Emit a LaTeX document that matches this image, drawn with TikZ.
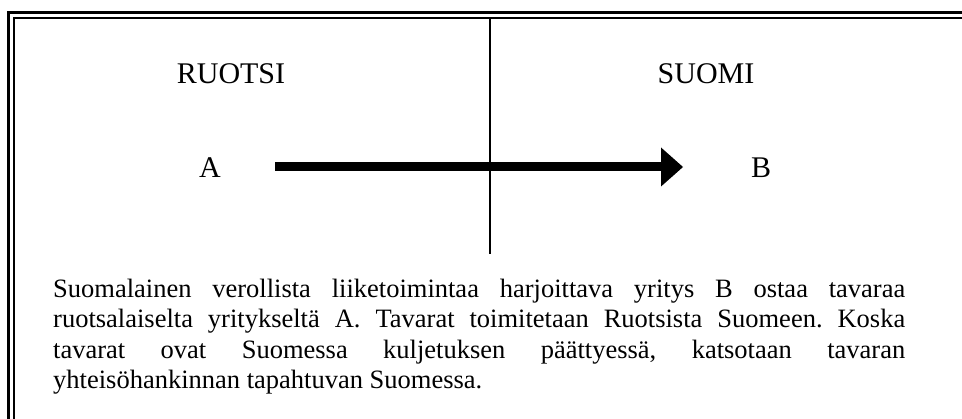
\documentclass[tikz,border=0pt]{standalone}
\usepackage{fontspec}
\setmainfont{Liberation Serif}
\usetikzlibrary{calc}
\begin{document}
\begin{tikzpicture}[x=1pt,y=-1pt,
  title/.style={font=\fontsize{30}{34}\selectfont, inner sep=0pt, anchor=base},
  label/.style={font=\fontsize{30}{34}\selectfont, inner sep=0pt, anchor=base},
  outerline/.style={line width=2.8pt},
  innerline/.style={line width=1.7pt},
  divider/.style={line width=1.6pt},
  flow/.style={line width=9pt},
  body/.style={font=\fontsize{26.5}{30.3}\selectfont, inner sep=0pt, anchor=north west, text width=852pt, align=justify}
]
\useasboundingbox (0,0) rectangle (962,419);
% double frame (left and top)
\coordinate (o1) at (8.7,430);
\coordinate (o2) at (8.7,12.5);
\coordinate (o3) at (975,12.5);
\coordinate (i1) at (14.2,430);
\coordinate (i2) at (14.2,17.8);
\coordinate (i3) at (975,17.8);
\draw[outerline] (o1) -- (o2) -- (o3);
\draw[innerline] (i1) -- (i2) -- (i3);
% divider
\coordinate (d1) at (490,18);
\coordinate (d2) at (490,254);
\draw[divider] (d1) -- (d2);
% titles
\node[title] (ruotsi) at (231,84) {RUOTSI};
\node[title] (suomi) at (706,84) {SUOMI};
\node[label] (A) at (210,178) {A};
\node[label] (B) at (761,178) {B};
% arrow
\coordinate (s) at (275,167);
\coordinate (hb) at (661,167);
\coordinate (t) at (683,167);
\draw[flow] (s) -- (hb);
\fill ($(hb)+(0,-19.5)$) -- (t) -- ($(hb)+(0,19.5)$) -- cycle;
% body text
\node[body] (text) at (53,279) {\hyphenpenalty=10000\frenchspacing Suomalainen verollista liiketoimintaa harjoittava yritys B ostaa tavaraa\linebreak ruotsalaiselta yritykseltä A. Tavarat toimitetaan Ruotsista Suomeen. Koska\linebreak tavarat ovat Suomessa kuljetuksen päättyessä, katsotaan tavaran\linebreak yhteisöhankinnan tapahtuvan Suomessa.};
\end{tikzpicture}
\end{document}
